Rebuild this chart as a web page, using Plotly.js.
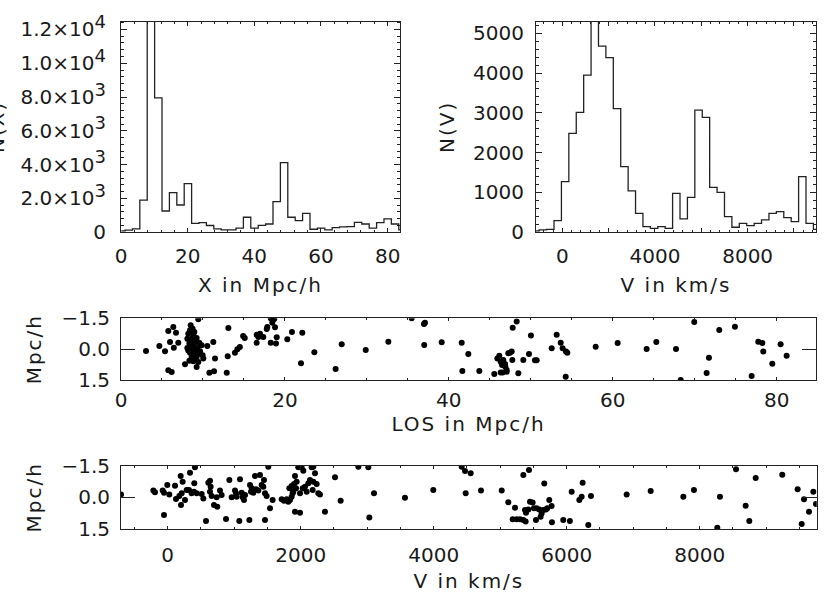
<!DOCTYPE html>
<html>
<head>
<meta charset="utf-8">
<script src="https://cdn.plot.ly/plotly-3.0.1.min.js"></script>
<style>
  html, body { margin: 0; padding: 0; background: #fff; }
  #chart { width: 830px; height: 593px; }
  .xtitle, .x2title, .x3title, .x4title, .y3title, .y4title, .annotation-text { letter-spacing: 2px; }
</style>
</head>
<body>
<div id="chart"></div>
<script>
// Histogram of X (bin centres in Mpc/h, counts)
const xBins = [0.09, 2.31, 4.53, 6.75, 8.97, 11.19, 13.41, 15.63, 17.85, 20.07,
  22.29, 24.51, 26.73, 28.95, 31.17, 33.39, 35.61, 37.83, 40.05, 42.27,
  44.49, 46.71, 48.93, 51.15, 53.37, 55.59, 57.81, 60.03, 62.25, 64.47,
  66.69, 68.91, 71.13, 73.35, 75.57, 77.79, 80.01, 82.23, 84.45];
const xCounts = [80, 130, 200, 1900, 15000, 7950, 1260, 2345, 1615, 2877,
  530, 570, 400, 200, 140, 140, 240, 890, 240, 410,
  490, 1810, 4120, 890, 690, 1120, 180, 240, 140, 280,
  320, 340, 590, 490, 240, 570, 790, 490, 140];

// Histogram of V (bin centres in km/s, counts)
const vBins = [-1160, -840, -520, -200, 120, 440, 760, 1080, 1400, 1720,
  2040, 2360, 2680, 3000, 3320, 3640, 3960, 4280, 4600, 4920,
  5240, 5560, 5880, 6200, 6520, 6840, 7160, 7480, 7800, 8120,
  8440, 8760, 9080, 9400, 9720, 10040, 10360, 10680, 11000];
const vCounts = [33, 59, 75, 293, 1272, 2485, 3013, 3950, 5600, 4678,
  4385, 3105, 1649, 1038, 477, 142, 100, 142, 100, 979,
  335, 879, 3071, 2887, 1130, 1004, 393, 126, 226, 167,
  226, 310, 477, 519, 368, 268, 1397, 226, 75];

// Galaxies: LOS position vs transverse offset
const losX = [3.05, 4.68, 5.37, 5.77, 6.38, 6.71, 5.98, 6.44, 6.99, 7.81, 8.34, 5.77, 6.18,
  8.5, 8.74, 8.21, 8.82, 8.09, 8.62, 9.23, 8.34, 8.91, 9.55, 8.09, 8.74, 9.31, 9.84,
  8.42, 9.03, 9.64, 8.62, 9.23, 9.96, 8.82, 9.43, 10.04, 8.34, 8.94, 8.42, 9.03, 9.43,
  8.21, 8.74, 9.15,
  9.43, 9.23, 10.53, 11.26, 11.47, 10.78, 11.35, 12.9, 13.02, 13.1, 13.9, 14.2, 14.5,
  14.9, 15.1, 16.55, 16.96, 16.76, 16.55, 17.85,
  18.27, 18.7, 18.46, 18.5, 18.79, 19.0, 18.91, 18.27, 17.78, 17.36, 20.29, 20.86,
  22.12, 21.96, 23.59, 26.19, 26.93, 29.86, 32.62, 35.47,
  36.97, 37.09, 37.0, 39.13, 41.57, 42.38, 41.65, 43.72, 45.55, 46.16, 45.92, 46.33,
  46.65, 46.49, 46.86, 47.06, 47.26, 47.67, 47.75, 46.9, 46.33, 47.06, 46.57, 47.46,
  47.79, 48.28, 48.48, 49.09, 49.78, 50.02, 50.51, 50.72, 52.55, 53.16, 53.65, 53.89,
  54.3, 54.46, 54.26, 57.92, 60.6, 64.14, 65.32, 67.72, 68.29, 69.95, 71.74, 71.46,
  73.0, 74.91, 76.95, 77.76, 78.25, 78.37, 79.47, 80.49, 81.22];
const losY = [0.09, -0.15, 0.10, -0.88, -1.08, -0.80, -0.35, -0.07, -0.31, 0.74, 0.56, 1.03, 1.11,
  -1.16, -0.99, -0.75, -0.75, -0.51, -0.51, -0.54, -0.27, -0.27, -0.31, -0.06, -0.06, -0.06, -0.19,
  0.17, 0.17, 0.10, 0.38, 0.38, 0.30, 0.59, 0.62, 0.46, -0.43, -0.83, -0.92, -0.38, 0.22,
  0.06, 0.13, 0.49,
  -1.45, 0.87, -0.15, -0.35, 0.46, 1.15, 1.08, 1.15, 0.35, -1.03, 0.17, 0.01, -0.10,
  -0.64, -0.54, -0.70, -0.75, -0.59, -0.31, -1.08,
  -1.50, -1.47, -1.29, -1.42, -1.06, -0.58, -0.28, -0.31, -0.98, -0.59, -0.48, -0.83,
  -0.80, 0.69, 0.15, 0.96, -0.24, 0.04, -0.36, -1.50,
  -1.22, -1.29, -0.20, -0.33, -0.31, 0.24, 1.06, 1.06, 1.21, 0.32, 0.45, 0.61,
  0.53, 0.77, 0.72, 1.01, 0.20, 0.12, 0.53, 0.85, 1.13, 1.10, 1.14, 0.17,
  -1.04, -1.34, 1.17, 0.53, 0.24, -0.67, 0.54, 0.54, -0.04, -0.70, -0.31, -0.04,
  0.12, 0.17, 1.34, -0.12, -0.30, -0.01, -0.35, -0.01, 1.50, -1.32, 0.42, 1.16,
  -0.93, -1.09, 1.31, -0.36, -0.30, 0.12, 0.71, -0.24, 0.32];

// Galaxies: velocity vs transverse offset
const velX = [-702, -216, -191, -75, -56, -6, 24, -56, 110, 125, 175, 195, 225, 210, 200, 260,
  285, 335, 320, 360, 395, 410, 400, 436, 511, 536, 611, 636, 646, 636, 661, 696,
  746, 736, 786, 811, 576, 877, 927, 962, 1012, 1027, 1037, 1077, 1087, 1112, 1128,
  1147, 1163, 1238, 1263, 1253, 1288, 1228, 1313, 1328, 1363, 1388, 1413, 1438, 1448,
  1463, 1488, 1463, 1513, 1538, 1578, 1714, 1749, 1789, 1814, 1839, 1864, 1829, 1864,
  1889, 1899, 1879, 1914, 1939, 1929, 1914, 1990, 1964, 2014, 2039, 1990, 2030, 2065,
  2090, 2115, 2140, 2165, 2190, 2215, 2180, 2240, 2265, 2290, 2190, 2365, 2516, 2601,
  2867, 3017, 3032, 3102, 3568,
  3994, 4421, 4471, 4556, 4481, 4711, 5023, 5122, 5223, 5188, 5248, 5298, 5348, 5383,
  5348, 5433, 5373, 5388, 5423, 5448, 5488, 5508, 5538, 5548, 5588, 5608, 5623, 5648,
  5663, 5688, 5708, 5738, 5773, 5778, 5948, 6048, 6075, 6190, 6225, 6240, 6325, 6365,
  6902, 7263, 7754, 7914, 8265, 8305, 8546, 8691, 8746, 8842, 9242, 9473, 9534, 9569,
  9644, 9709, 9749];
const velY = [-0.14, -0.32, -0.24, -0.32, -0.22, -0.58, -0.14, 0.84, -0.55, 0.08, -0.06, -1.01, -0.74, -0.19, 0.36, 0.13,
  -0.35, -1.17, -0.35, -0.19, -0.27, -1.42, -0.67, -0.19, -0.16, 0.05, -0.69, -0.79, -0.50, -0.27, -0.06, 0.36,
  0.44, 0.00, -0.32, -0.11, 1.12, 1.03, -0.82, 0.00, -0.32, -0.19, -0.03, 1.12, -0.86, -0.22, 0.00,
  0.13, -0.11, -0.59, -0.43, -0.27, -0.22, 1.07, -1.01, -0.38, -0.32, -1.06, -0.59, -0.50, -0.82,
  -0.19, -0.06, 1.07, -1.45, 0.52, 0.13, 0.09, 0.16, 0.09, 0.21, 0.13, -0.03, -0.43, -0.54,
  -0.27, -0.63, -0.19, -1.01, -0.74, -0.43, 0.68, 0.73, -1.42, -1.42, -1.26, -0.19, -0.43, -0.50,
  -0.27, -0.67, -0.82, -1.42, -1.45, -1.14, -0.35, -0.63, -0.19, -0.14, -0.74, 0.68, -0.95, 0.16,
  -1.45, -1.42, 0.95, -0.19, 0.02,
  -0.35, -1.45, -1.25, -1.14, -0.19, -0.32, -0.32, 0.23, 0.49, 1.04, 1.04, 1.04, 1.07, 1.15,
  -1.06, -1.30, 0.60, 0.73, 0.57, 0.21, 0.25, 0.52, 1.07, 0.52, 0.57, 0.92, 0.76, 0.60,
  -0.66, 0.57, 0.52, 0.13, 0.41, 1.18, 1.07, 1.12, -0.27, 0.13, -0.03, -0.69, 1.31, -0.06,
  -0.14, -0.30, -0.03, -0.35, 1.44, -0.03, -1.33, 0.40, 1.12, -0.92, -1.07, -0.38, 1.26, 0.09,
  0.68, -0.27, 0.32];

// tick labels
const xHistTicks = [0, 20, 40, 60, 80];
const nxTickVals = [0, 2000, 4000, 6000, 8000, 10000, 12000];
const sup = (m, e) => m + "×10<sup><span style=\"font-size:18px\">" + e + "</span></sup>";
const nxTickText = ["0", sup("2.0", 3), sup("4.0", 3), sup("6.0", 3),
  sup("8.0", 3), sup("1.0", 4), sup("1.2", 4)];
const vHistTickVals = [0, 2000, 4000, 6000, 8000, 10000];
const vHistTickText = ["0", "", "4000", "", "8000", ""];
const nvTickVals = [0, 1000, 2000, 3000, 4000, 5000];
const losTicks = [0, 20, 40, 60, 80];
const offTickVals = [-1.5, 0, 1.5];
const offTickText = ["−1.5", "0.0", "1.5"];
const velTicks = [0, 2000, 4000, 6000, 8000];

const ink = "#222";
const font = { family: "DejaVu Sans", size: 20, color: "#1a1a1a" };

function axis(extra) {
  return Object.assign({
    showline: true, linecolor: ink, linewidth: 1, mirror: "ticks",
    ticks: "inside", tickcolor: ink, tickwidth: 1,
    showgrid: false, zeroline: false, tickfont: font,
  }, extra);
}
function minor(d, len) {
  return { ticks: "inside", ticklen: len, dtick: d, tick0: 0, tickcolor: ink, showgrid: false };
}

const histLine = { color: ink, width: 1.3, shape: "hvh" };
const dots = { color: "#000", size: 6 };

const traces = [
  { x: xBins, y: xCounts, type: "scatter", mode: "lines", line: histLine, xaxis: "x", yaxis: "y" },
  { x: vBins, y: vCounts, type: "scatter", mode: "lines", line: histLine, xaxis: "x2", yaxis: "y2" },
  { x: losX, y: losY, type: "scatter", mode: "markers", marker: dots, xaxis: "x3", yaxis: "y3" },
  { x: velX, y: velY, type: "scatter", mode: "markers", marker: dots, xaxis: "x4", yaxis: "y4" },
];

// the histogram y titles sit where plotly's title placement won't put them
const histTitles = [
  { text: "N(X)", x: -3 / 830 },
  { text: "N(V)", x: 447 / 830 },
].map(t => ({
  text: t.text, xref: "paper", yref: "paper", x: t.x, y: 1 - 127 / 593,
  xanchor: "center", yanchor: "middle", textangle: -90, showarrow: false, font: font,
}));

const layout = {
  width: 830, height: 593,
  margin: { l: 0, r: 0, t: 0, b: 0 },
  paper_bgcolor: "#fff", plot_bgcolor: "#fff",
  showlegend: false,
  font: font,
  annotations: histTitles,
  xaxis: axis({
    domain: [0.1458, 0.4819], anchor: "y", range: [0, 83.7],
    tickmode: "array", tickvals: xHistTicks, ticklen: 4, ticklabelstandoff: 6,
    minor: minor(4, 2),
    title: { text: "X in Mpc/h", font: font, standoff: 10 },
  }),
  yaxis: axis({
    domain: [0.6083, 0.9634], anchor: "x", range: [0, 12460],
    tickmode: "array", tickvals: nxTickVals, ticktext: nxTickText, ticklen: 6, ticklabelstandoff: 10,
    minor: minor(400, 3),
  }),
  xaxis2: axis({
    domain: [0.6458, 0.9831], anchor: "y2", range: [-1137, 10950],
    tickmode: "array", tickvals: vHistTickVals, ticktext: vHistTickText, ticklen: 4, ticklabelstandoff: 6,
    minor: minor(400, 2),
    title: { text: "V in km/s", font: font, standoff: 10 },
  }),
  yaxis2: axis({
    domain: [0.6083, 0.9634], anchor: "x2", range: [0, 5290],
    tickmode: "array", tickvals: nvTickVals, ticklen: 6, ticklabelstandoff: 7,
    minor: minor(200, 3),
  }),
  xaxis3: axis({
    domain: [0.1458, 0.9831], anchor: "y3", range: [0, 84.8],
    tickmode: "array", tickvals: losTicks, ticklen: 3, ticklabelstandoff: 2,
    minor: minor(5, 2),
    title: { text: "LOS in Mpc/h", font: font, standoff: 0 },
  }),
  yaxis3: axis({
    domain: [0.3592, 0.4632], anchor: "x3", range: [1.5, -1.5],
    tickmode: "array", tickvals: offTickVals, ticktext: offTickText, ticklen: 14, ticklabelstandoff: 6,
    title: { text: "Mpc/h", font: font, standoff: 14 },
  }),
  xaxis4: axis({
    domain: [0.1458, 0.9840], anchor: "y4", range: [-702, 9760],
    tickmode: "array", tickvals: velTicks, ticklen: 3, ticklabelstandoff: 8,
    minor: minor(500, 2),
    title: { text: "V in km/s", font: font, standoff: 16 },
  }),
  yaxis4: axis({
    domain: [0.1079, 0.2147], anchor: "x4", range: [1.5, -1.5],
    tickmode: "array", tickvals: offTickVals, ticktext: offTickText, ticklen: 14, ticklabelstandoff: 6,
    title: { text: "Mpc/h", font: font, standoff: 14 },
  }),
};

Plotly.newPlot("chart", traces, layout, { displayModeBar: false, staticPlot: true });
</script>
</body>
</html>
